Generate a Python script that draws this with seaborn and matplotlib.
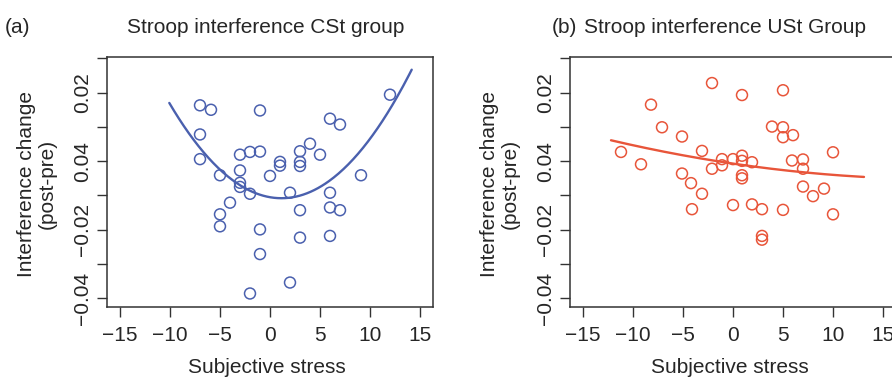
import numpy as np
import pandas as pd
import matplotlib
matplotlib.use("Agg")
import matplotlib.pyplot as plt
import seaborn as sns

# ---- data ----
cst_x = [-7, -5.9, -1, -7, -7, -5, -3, -2, -1, -3, -3, -3, -2, -4, -5, -5, -1, -1, -2, 2,
         0, 1, 1, 3, 3, 3, 4, 5, 2, 3, 3, 6, 7, 6, 6, 7, 6, 9.1, 12]
cst_y = [0.0163, 0.0150, 0.0148, 0.0078, 0.0006, -0.0041, 0.0019, 0.0027, 0.0028, -0.0027,
         -0.0063, -0.0075, -0.0095, -0.0121, -0.0155, -0.0190, -0.0199, -0.0271, -0.0386, -0.0354,
         -0.0043, -0.0002, -0.0013, 0.0029, -0.0002, -0.0014, 0.0051, 0.0019, -0.0092, -0.0143,
         -0.0223, 0.0124, 0.0107, -0.0092, -0.0135, -0.0143, -0.0218, -0.0041, 0.0194]

ust_x = [-11.2, -9.2, -8.2, -7.1, -5.1, -5.1, -4.2, -4.1, -3.1, -3.1, -2.1, -2.1, -1.1, -1.1,
         0, 0, 0.9, 0.9, 0.9, 0.9, 0.9, 1.9, 1.9, 2.9, 2.9, 2.9, 3.9, 5, 5, 5, 5, 6, 5.9,
         7, 7, 7, 8, 9.1, 10, 10]
ust_y = [0.0027, -0.0009, 0.0165, 0.0099, 0.0072, -0.0036, -0.0064, -0.0140, 0.0030, -0.0095,
         0.0228, -0.0022, 0.0006, -0.0012, 0.0006, -0.0128, 0.0193, 0.0016, 0.0001, -0.0041,
         -0.0050, -0.0003, -0.0126, -0.0140, -0.0218, -0.0229, 0.0101, 0.0207, 0.0099, 0.0070,
         -0.0142, 0.0076, 0.0002, 0.0005, -0.0022, -0.0074, -0.0102, -0.0080, 0.0026, -0.0155]

# fitted curves: polynomial coefficients (highest power first) and x-range
cst_fit = [0.000221, -0.000506, -0.01051]
cst_fit_range = [-10.07, 14.17]
ust_fit = [0.0000103, -0.000432, -0.0007]
ust_fit_range = [-12.2, 13.1]

titles = ["Stroop interference CSt group", "Stroop interference USt Group"]
panel_tags = ["(a)", "(b)"]
x_ticks = [-15, -10, -5, 0, 5, 10, 15]
x_ticklabels = ["\u221215", "\u221210", "\u22125", "0", "5", "10", "15"]
y_ticks = [0.03, 0.02, 0.01, 0.00, -0.01, -0.02, -0.03, -0.04]
y_ticklabels = ["", "0.02", "", "0.04", "", "\u22120.02", "", "\u22120.04"]
x_label = "Subjective stress"
y_label = "Interference change\n(post-pre)"

# ---- style ----
sns.set_theme(style="ticks")
plt.rcParams["font.family"] = ["Liberation Sans", "DejaVu Sans"]
FS = 15
W, H = 892, 385
fig = plt.figure(figsize=(W / 100, H / 100), dpi=100)

blue = "#4A60AE"
red = "#E8553A"
spine_c = "#333333"

def px(x0, y_top, w, h):
    return [x0 / W, 1 - (y_top + h) / H, w / W, h / H]

axes = [fig.add_axes(px(107, 57, 326, 250)), fig.add_axes(px(570, 57, 326, 250))]
datasets = [(cst_x, cst_y, cst_fit, cst_fit_range, blue),
            (ust_x, ust_y, ust_fit, ust_fit_range, red)]

for ax, (xs, ys, fit, rng, col) in zip(axes, datasets):
    df = pd.DataFrame({"x": xs, "y": ys})
    sns.scatterplot(data=df, x="x", y="y", ax=ax, marker="o", s=62,
                    facecolors="none", edgecolor=col, linewidth=1.1, legend=False)
    fx = np.linspace(rng[0], rng[1], 200)
    fy = np.polyval(fit, fx)
    sns.lineplot(x=fx, y=fy, ax=ax, color=col, linewidth=1.7, sort=False)
    ax.set_xlim(-16.3, 16.3)
    ax.set_ylim(-0.04254, 0.0304)
    ax.set_xticks(x_ticks)
    ax.set_xticklabels(x_ticklabels, fontsize=FS)
    ax.set_yticks(y_ticks)
    ax.set_yticklabels(y_ticklabels, fontsize=FS, rotation=90, va="center")
    ax.tick_params(axis="both", direction="out", length=7.5, width=1.0, color=spine_c)
    ax.tick_params(axis="x", pad=6)
    ax.tick_params(axis="y", pad=3)
    for s in ax.spines.values():
        s.set_color(spine_c)
        s.set_linewidth(1.1)
        s.set_visible(True)
    ax.set_xlabel(x_label, fontsize=FS)
    ax.xaxis.set_label_coords(0.49, -0.205)
    ax.set_ylabel("")

# y labels, titles and panel tags
fig.text(37 / W, 1 - 184 / H, y_label, rotation=90, ha="center", va="center",
         fontsize=FS, multialignment="center", linespacing=1.15)
fig.text(500 / W, 1 - 184 / H, y_label, rotation=90, ha="center", va="center",
         fontsize=FS, multialignment="center", linespacing=1.15)
fig.text(266 / W, 1 - 33 / H, titles[0], ha="center", va="baseline", fontsize=FS)
fig.text(725 / W, 1 - 33 / H, titles[1], ha="center", va="baseline", fontsize=FS)
fig.text(5 / W, 1 - 33 / H, panel_tags[0], ha="left", va="baseline", fontsize=FS)
fig.text(552 / W, 1 - 33 / H, panel_tags[1], ha="left", va="baseline", fontsize=FS)

fig.savefig("out.png", dpi=100)
